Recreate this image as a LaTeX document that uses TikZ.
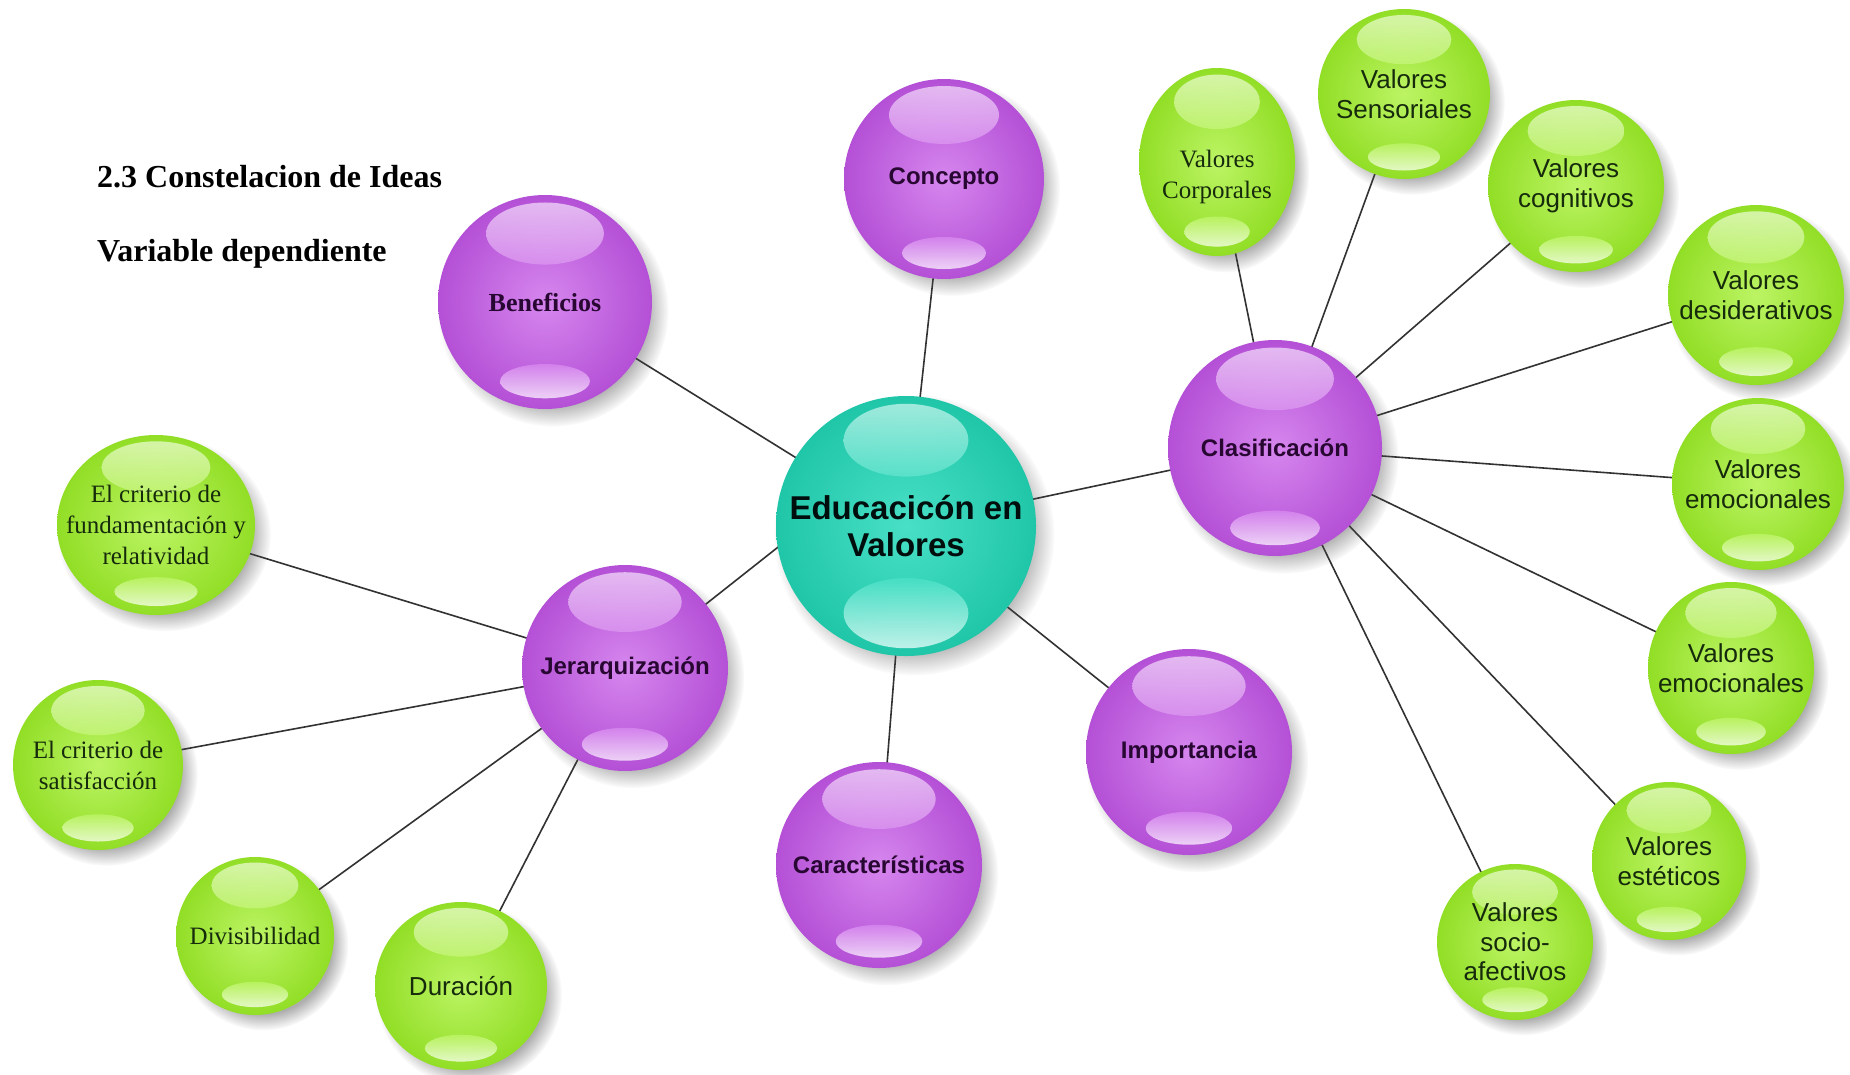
\documentclass[tikz,border=0pt]{standalone}
\usepackage{fontspec}
\setmainfont{Liberation Serif}
\newfontfamily\arialf{Liberation Sans}
\usetikzlibrary{shapes.geometric,fadings,calc}
\pgfdeclarelayer{bgl}
\pgfdeclarelayer{lines}
\pgfdeclarelayer{shadowl}
\pgfsetlayers{bgl,lines,shadowl,main}

\definecolor{purIn}{RGB}{214,134,238}
\definecolor{purOut}{RGB}{180,80,214}
\definecolor{grnIn}{RGB}{188,244,100}
\definecolor{grnOut}{RGB}{146,222,38}
\definecolor{tealIn}{RGB}{72,224,198}
\definecolor{tealOut}{RGB}{32,198,168}
\definecolor{purTxt}{RGB}{40,8,50}
\definecolor{grnTxt}{RGB}{22,42,12}
\definecolor{linec}{RGB}{50,50,50}

\tikzset{
  connector/.style={draw=linec, line width=1.6pt},
  titletext/.style={anchor=west, inner sep=0, font=\bfseries\fontsize{32}{36}\selectfont},
  purtext/.style={text=purTxt, font=\arialf\bfseries\fontsize{24}{28}\selectfont},
  purserif/.style={text=purTxt, font=\bfseries\fontsize{26}{30}\selectfont},
  centertext/.style={text=black!90!teal, font=\arialf\bfseries\fontsize{33}{37}\selectfont},
  grnsans/.style={text=grnTxt, font=\arialf\fontsize{26}{29.5}\selectfont},
  grnserif/.style={text=grnTxt, font=\fontsize{25}{31}\selectfont},
}

% highlight geometry (fractions of the radii)
\def\topoff{0.64}\def\toprx{0.55}\def\topry{0.29}
\def\botoff{0.74}\def\botrx{0.42}\def\botry{0.16}

% name, x, y, rx, ry, inner colour, outer colour, text style, text
\newcommand{\sphere}[9]{%
  \begin{pgfonlayer}{shadowl}
    \fill[black!70, opacity=0.45, path fading=circle with fuzzy edge 20 percent]
      (#2+8,#3+9) ellipse [x radius=#4*1.08, y radius=#5*1.08];
  \end{pgfonlayer}
  \node[ellipse, minimum width=2*#4, minimum height=2*#5, inner sep=0pt,
        inner color=#6, outer color=#7] (#1) at (#2,#3) {};
  \shade[top color=white!70!#6, bottom color=#6!85!white, opacity=0.75]
    ($(#1.center)+(0,-\topoff*#5)$) ellipse [x radius=\toprx*#4, y radius=\topry*#5];
  \shade[top color=#6, bottom color=white!80!#6, opacity=0.85]
    ($(#1.center)+(0,\botoff*#5)$) ellipse [x radius=\botrx*#4, y radius=\botry*#5];
  \node[align=center, inner sep=0pt, #8] (#1-t) at (#1.center) {#9};
}

\begin{document}
\begin{tikzpicture}[x=1pt, y=-1pt]
\useasboundingbox (0,0) rectangle (1850,1074);
\begin{pgfonlayer}{bgl}
  \fill[white] (0,0) rectangle (1850,1074);
\end{pgfonlayer}

\node[titletext] (title) at (97,177) {2.3 Constelacion de Ideas};
\node[titletext] (subtitle) at (97,254) {Variable dependiente};

% centre
\def\topoff{0.66}\def\toprx{0.48}\def\topry{0.28}
\def\botoff{0.67}\def\botrx{0.48}\def\botry{0.27}
\sphere{edu}{906}{526}{130}{130}{tealIn}{tealOut}{centertext}{Educacicón en\\Valores}
\def\topoff{0.64}\def\toprx{0.55}\def\topry{0.29}
\def\botoff{0.74}\def\botrx{0.42}\def\botry{0.16}
% purple
\sphere{concepto}{944}{179}{100}{100}{purIn}{purOut}{purtext}{Concepto}
\sphere{benef}{545}{302}{107}{107}{purIn}{purOut}{purserif}{Beneficios}
\sphere{clasif}{1275}{448}{107}{108}{purIn}{purOut}{purtext}{Clasificación}
\sphere{jerar}{625}{668}{103}{103}{purIn}{purOut}{purtext}{Jerarquización}
\sphere{caract}{879}{865}{103}{103}{purIn}{purOut}{purtext}{Características}
\sphere{import}{1189}{752}{103}{103}{purIn}{purOut}{purtext}{Importancia}
% green right
\sphere{corp}{1217}{162}{78}{94}{grnIn}{grnOut}{grnserif, yshift=-15pt}{Valores\\Corporales}
\sphere{sens}{1404}{94}{86}{85}{grnIn}{grnOut}{grnsans}{Valores\\Sensoriales}
\sphere{cogn}{1576}{186}{88}{86}{grnIn}{grnOut}{grnsans}{Valores\\cognitivos}
\sphere{desid}{1756}{295}{88}{90}{grnIn}{grnOut}{grnsans}{Valores\\desiderativos}
\sphere{emoa}{1758}{484}{86}{86}{grnIn}{grnOut}{grnsans}{Valores\\emocionales}
\sphere{emob}{1731}{668}{83}{86}{grnIn}{grnOut}{grnsans}{Valores\\emocionales}
\sphere{estet}{1669}{861}{77}{79}{grnIn}{grnOut}{grnsans}{Valores\\estéticos}
\sphere{socio}{1515}{942}{78}{78}{grnIn}{grnOut}{grnsans}{Valores\\socio-\\afectivos}
% green left
\sphere{crita}{156}{525}{99}{90}{grnIn}{grnOut}{grnserif}{El criterio de\\fundamentación y\\relatividad}
\sphere{critb}{98}{765}{85}{85}{grnIn}{grnOut}{grnserif}{El criterio de\\satisfacción}
\sphere{divis}{255}{936}{79}{79}{grnIn}{grnOut}{grnserif}{Divisibilidad}
\sphere{durac}{461}{986}{86}{84}{grnIn}{grnOut}{grnsans}{Duración}

\begin{pgfonlayer}{lines}
  \draw[connector] (edu.center) -- (concepto.center);
  \draw[connector] (edu.center) -- (benef.center);
  \draw[connector] (edu.center) -- (clasif.center);
  \draw[connector] ($(edu.center)+(0,-80)$) -- (jerar.center);
  \draw[connector] (edu.center) -- (caract.center);
  \draw[connector] (edu.center) -- (import.center);
  \foreach \n in {corp,sens,cogn,desid,emoa,emob,estet,socio}
    \draw[connector] (clasif.center) -- (\n.center);
  \foreach \n in {crita,critb,divis,durac}
    \draw[connector] (jerar.center) -- (\n.center);
\end{pgfonlayer}
\end{tikzpicture}
\end{document}
